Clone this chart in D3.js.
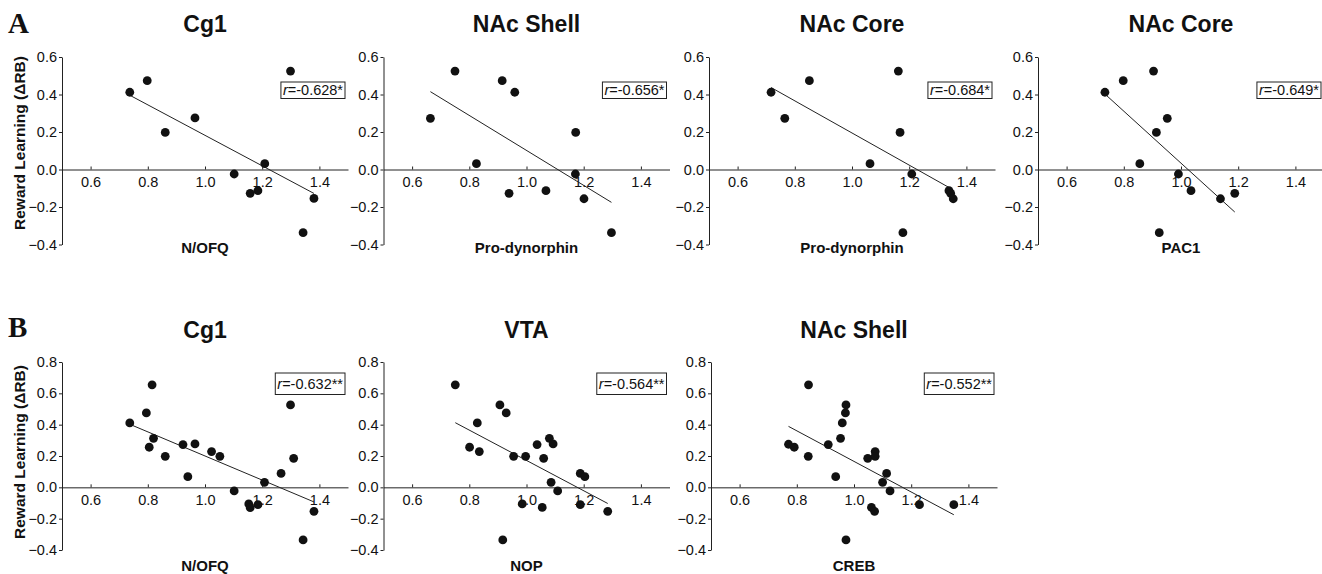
<!DOCTYPE html>
<html>
<head>
<meta charset="utf-8">
<script src="https://cdn.jsdelivr.net/npm/d3@7"></script>
<style>
  body { margin: 0; background: #fff; }
  svg { display: block; font-family: "Liberation Sans", Arial, sans-serif; }
</style>
</head>
<body>
<div id="chart"></div>
<script>
// panel texts
var panelTitles = ["Cg1", "NAc Shell", "NAc Core", "NAc Core", "Cg1", "VTA", "NAc Shell"];
var xLabels = ["N/OFQ", "Pro-dynorphin", "Pro-dynorphin", "PAC1", "N/OFQ", "NOP", "CREB"];
var rValues = ["-0.628*", "-0.656*", "-0.684*", "-0.649*", "-0.632**", "-0.564**", "-0.552**"];
var xTicks = [0.6, 0.8, 1.0, 1.2, 1.4];
var yTicksA = [-0.4, -0.2, 0.0, 0.2, 0.4, 0.6];
var yTicksB = [-0.4, -0.2, 0.0, 0.2, 0.4, 0.6, 0.8];

// row A data (expression level vs reward learning)
var a1X = [0.737, 0.798, 0.861, 0.965, 1.102, 1.158, 1.185, 1.209, 1.299, 1.381, 1.343];
var a1Y = [0.412, 0.474, 0.198, 0.275, -0.024, -0.127, -0.113, 0.031, 0.525, -0.154, -0.337];
var a2X = [0.664, 0.750, 0.825, 0.915, 0.959, 0.939, 1.068, 1.172, 1.171, 1.201, 1.297];
var a2Y = [0.273, 0.525, 0.031, 0.474, 0.412, -0.127, -0.113, 0.198, -0.024, -0.156, -0.337];
var a3X = [0.717, 0.765, 0.851, 1.063, 1.162, 1.168, 1.209, 1.178, 1.339, 1.345, 1.354];
var a3Y = [0.412, 0.273, 0.474, 0.031, 0.525, 0.198, -0.024, -0.337, -0.113, -0.127, -0.156];
var a4X = [0.734, 0.798, 0.904, 0.952, 0.914, 0.856, 0.991, 1.035, 1.138, 1.188, 0.924];
var a4Y = [0.412, 0.474, 0.525, 0.273, 0.198, 0.031, -0.024, -0.113, -0.156, -0.127, -0.337];

// row B data
var b1X = [0.737, 0.795, 0.815, 0.805, 0.820, 0.861, 0.923, 0.965, 0.940, 1.023, 1.052,
           1.102, 1.153, 1.158, 1.185, 1.208, 1.266, 1.299, 1.310, 1.381, 1.343];
var b1Y = [0.411, 0.475, 0.654, 0.256, 0.313, 0.198, 0.273, 0.277, 0.068, 0.228, 0.198,
           -0.023, -0.106, -0.130, -0.111, 0.032, 0.089, 0.526, 0.185, -0.153, -0.336];
var b2X = [0.751, 0.907, 0.929, 0.828, 0.801, 0.835, 0.955, 0.997, 1.037, 1.080, 1.093,
           1.060, 1.086, 1.109, 0.985, 1.055, 1.188, 1.204, 1.188, 1.284, 0.917];
var b2Y = [0.654, 0.526, 0.475, 0.411, 0.256, 0.228, 0.198, 0.198, 0.273, 0.313, 0.277,
           0.185, 0.032, -0.023, -0.106, -0.128, 0.089, 0.068, -0.111, -0.153, -0.336];
var b3X = [0.771, 0.791, 0.840, 0.841, 0.910, 0.936, 0.953, 0.959, 0.970, 0.972, 0.972,
           1.048, 1.074, 1.074, 1.061, 1.072, 1.100, 1.114, 1.126, 1.229, 1.349];
var b3Y = [0.275, 0.256, 0.198, 0.654, 0.273, 0.068, 0.313, 0.411, 0.475, 0.526, -0.336,
           0.185, 0.228, 0.198, -0.128, -0.153, 0.032, 0.089, -0.023, -0.111, -0.111];

var dataX = [a1X, a2X, a3X, a4X, b1X, b2X, b3X];
var dataY = [a1Y, a2Y, a3Y, a4Y, b1Y, b2Y, b3Y];

// layout
var width = 1322, height = 574;
var plotW = 286;
var rows = {
  A: { letter: "A", top: 57, bottom: 244.5, yMax: 0.6, ticks: yTicksA, titleY: 32, xLabelY: 253,
       boxTop: 82, boxH: 16.5, letterY: 33, yLabelC: 143 },
  B: { letter: "B", top: 362, bottom: 550, yMax: 0.8, ticks: yTicksB, titleY: 338, xLabelY: 571,
       boxTop: 373, boxH: 21.5, letterY: 337, yLabelC: 452 }
};
var panels = [
  { row: "A", left: 62 }, { row: "A", left: 383.5 }, { row: "A", left: 709 }, { row: "A", left: 1038 },
  { row: "B", left: 62 }, { row: "B", left: 383.5 }, { row: "B", left: 711 }
];
var ink = "#111";

var svg = d3.select("#chart").append("svg").attr("width", width).attr("height", height);
svg.append("rect").attr("width", width).attr("height", height).attr("fill", "#fff");

// least squares fit
function fit(xs, ys) {
  var mx = d3.mean(xs), my = d3.mean(ys);
  var sxy = d3.sum(xs, function(v, i){ return (v - mx) * (ys[i] - my); });
  var sxx = d3.sum(xs, function(v){ return (v - mx) * (v - mx); });
  var b = sxy / sxx;
  return function(v){ return my + b * (v - mx); };
}

Object.keys(rows).forEach(function(k){
  var r = rows[k];
  svg.append("text").attr("x", 8).attr("y", r.letterY)
    .attr("font-family", "'Liberation Serif', 'Times New Roman', serif")
    .attr("font-weight", "bold").attr("font-size", 29).attr("fill", ink).text(r.letter);
  svg.append("text")
    .attr("transform", "translate(25," + r.yLabelC + ") rotate(-90)")
    .attr("text-anchor", "middle").attr("font-weight", "bold").attr("font-size", 15.5)
    .attr("fill", ink).text("Reward Learning (\u0394RB)");
});

panels.forEach(function(p, i){
  var r = rows[p.row];
  var x = d3.scaleLinear().domain([0.5, 1.5]).range([p.left, p.left + plotW]);
  var y = d3.scaleLinear().domain([-0.4, r.yMax]).range([r.bottom, r.top]);
  var g = svg.append("g");
  var cx = p.left + plotW / 2;

  g.append("text").attr("x", cx).attr("y", r.titleY).attr("text-anchor", "middle")
    .attr("font-weight", "bold").attr("font-size", 23).attr("fill", ink).text(panelTitles[i]);

  // y axis
  var ya = g.append("g").attr("transform", "translate(" + p.left + ",0)")
    .call(d3.axisLeft(y).tickValues(r.ticks).tickSize(3).tickSizeOuter(0).tickPadding(2)
      .tickFormat(d3.format(".1f")));
  // x axis through zero
  var xa = g.append("g").attr("transform", "translate(0," + y(0) + ")")
    .call(d3.axisBottom(x).tickValues(xTicks).tickSize(-3).tickSizeOuter(0).tickPadding(7)
      .tickFormat(d3.format(".1f")));
  [ya, xa].forEach(function(a){
    a.selectAll("path, line").attr("stroke", "#222").attr("stroke-width", 1);
    a.selectAll("text").attr("font-size", 14.5).attr("fill", ink)
      .attr("font-family", "'Liberation Sans', Arial, sans-serif");
  });

  g.append("text").attr("x", cx).attr("y", r.xLabelY).attr("text-anchor", "middle")
    .attr("font-weight", "bold").attr("font-size", 15).attr("fill", ink).text(xLabels[i]);

  // regression line
  var xs = dataX[i], ys = dataY[i];
  var f = fit(xs, ys);
  var ext = d3.extent(xs);
  g.append("line")
    .attr("x1", x(ext[0])).attr("y1", y(f(ext[0])))
    .attr("x2", x(ext[1])).attr("y2", y(f(ext[1])))
    .attr("stroke", "#222").attr("stroke-width", 1);

  g.selectAll("circle").data(xs).enter().append("circle")
    .attr("cx", function(d){ return x(d); })
    .attr("cy", function(d, j){ return y(ys[j]); })
    .attr("r", 4.4).attr("fill", ink);

  // r box
  var right = x(1.5) - 3;
  var box = g.append("rect");
  var t = g.append("text").attr("text-anchor", "end").attr("x", right - 2)
    .attr("y", r.boxTop + r.boxH / 2).attr("dy", "0.36em")
    .attr("font-size", 14.5).attr("fill", ink);
  t.append("tspan").attr("font-style", "italic").text("r");
  t.append("tspan").text("=" + rValues[i]);
  var bb = t.node().getBBox();
  box.attr("x", bb.x - 2).attr("y", r.boxTop)
    .attr("width", right - bb.x + 2).attr("height", r.boxH)
    .attr("fill", "#fff").attr("stroke", "#222").attr("stroke-width", 1);
});
</script>
</body>
</html>
